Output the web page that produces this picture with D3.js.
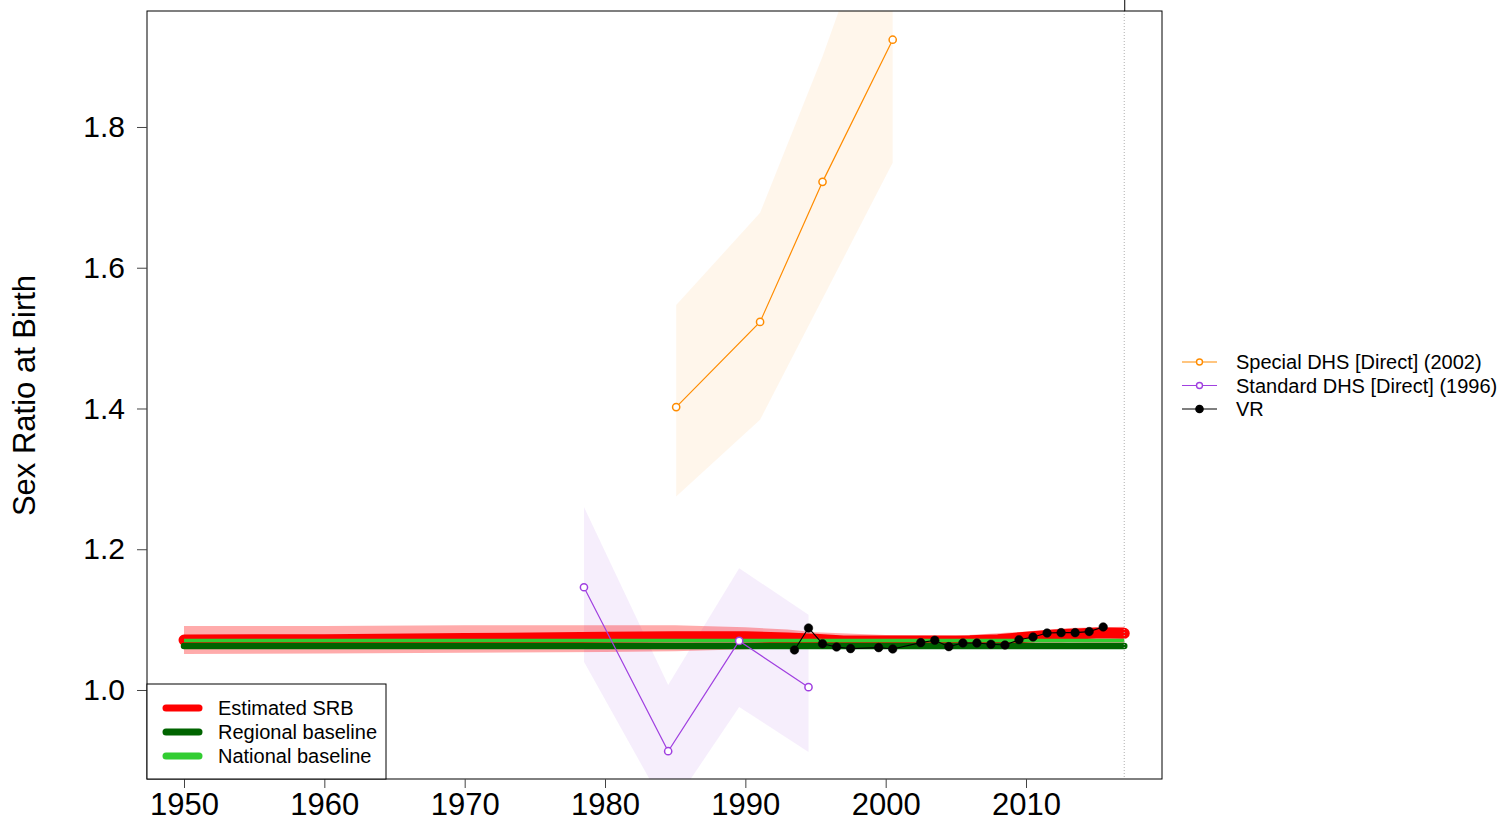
<!DOCTYPE html>
<html>
<head>
<meta charset="utf-8">
<script src="https://cdn.jsdelivr.net/npm/d3@7"></script>
<style>
  html, body { margin: 0; padding: 0; background: #fff; }
  svg { display: block; font-family: "Liberation Sans", Arial, sans-serif; }
</style>
</head>
<body>
<svg id="chart" width="1499" height="822"></svg>
<script>
// ---------------- DATA ----------------
const xTicks = [1950, 1960, 1970, 1980, 1990, 2000, 2010];
const yTicks = [1.0, 1.2, 1.4, 1.6, 1.8];

// Estimated SRB (median) and its uncertainty band
const estYears = [1950, 1960, 1970, 1980, 1985, 1990, 1993, 1995, 1997, 2000, 2003, 2006, 2008, 2010, 2012, 2014, 2015, 2016, 2017];
const estMedian = [1.071, 1.0715, 1.073, 1.075, 1.0755, 1.0755, 1.074, 1.072, 1.0695, 1.0695, 1.0695, 1.070, 1.0715, 1.075, 1.078, 1.080, 1.081, 1.081, 1.0805];
const bandYears = [1950, 1960, 1970, 1980, 1985, 1990, 1993, 1995, 2000, 2005, 2010, 2013, 2017];
const bandLower = [1.051, 1.052, 1.053, 1.054, 1.055, 1.058, 1.061, 1.062, 1.062, 1.063, 1.065, 1.067, 1.066];
const bandUpper = [1.091, 1.091, 1.092, 1.092, 1.092, 1.089, 1.086, 1.082, 1.078, 1.077, 1.083, 1.088, 1.090];

const regionalBaseline = 1.0625;
const nationalBaseline = 1.0705;
const baselineYears = [1950, 2017];

// Special DHS [Direct] (2002)
const dhs2002Years = [1985.07, 1991.05, 1995.5, 2000.5];
const dhs2002Values = [1.402, 1.523, 1.722, 1.924];
const dhs2002Lower = [1.275, 1.384, 1.556, 1.749];
const dhs2002Upper = [1.547, 1.678, 1.900, 2.18];

// Standard DHS [Direct] (1996)
const dhs1996Years = [1978.5, 1984.5, 1989.56, 1994.5];
const dhs1996Values = [1.146, 0.913, 1.0697, 1.004];
const dhs1996Lower = [1.040, 0.826, 0.976, 0.912];
const dhs1996Upper = [1.260, 1.007, 1.173, 1.107];

// VR
const vrYears = [1993.5, 1994.5, 1995.5, 1996.5, 1997.5, 1999.5, 2000.5, 2002.5, 2003.5, 2004.5, 2005.5, 2006.5, 2007.5, 2008.5, 2009.5, 2010.5, 2011.5, 2012.5, 2013.5, 2014.5, 2015.5];
const vrValues = [1.0569, 1.0881, 1.0658, 1.0611, 1.0588, 1.0602, 1.0583, 1.0673, 1.0706, 1.0616, 1.0668, 1.0668, 1.0649, 1.064, 1.0715, 1.0753, 1.081, 1.0815, 1.0815, 1.083, 1.0896];

const legendSeries = ["Special DHS [Direct] (2002)", "Standard DHS [Direct] (1996)", "VR"];
const legendLines = ["Estimated SRB", "Regional baseline", "National baseline"];
const yTitle = "Sex Ratio at Birth";
const endYear = 2017;

// ---------------- LAYOUT ----------------
const box = { left: 147, right: 1162, top: 11, bottom: 779 };
const colors = {
  est: "#FF0000", band: "#FF0000", regional: "#006400", national: "#32CD32",
  dhs2002: "#FF8C00", dhs1996: "#A040E0", vr: "#000000"
};

const svg = d3.select("#chart");
const x = d3.scaleLinear().domain([1947.363, 2019.69]).range([box.left, box.right]);
const y = d3.scaleLinear().domain([0.87353, 1.9648]).range([box.bottom, box.top]);

svg.append("defs").append("clipPath").attr("id", "clip")
  .append("rect").attr("x", box.left).attr("y", box.top)
  .attr("width", box.right - box.left).attr("height", box.bottom - box.top);

const plot = svg.append("g").attr("clip-path", "url(#clip)");

const area = d3.area().x(d => x(d[0])).y0(d => y(d[1])).y1(d => y(d[2]));
const line = d3.line().x(d => x(d[0])).y(d => y(d[1]));

// data bands
plot.append("path").datum(d3.zip(dhs2002Years, dhs2002Lower, dhs2002Upper))
  .attr("d", area).attr("fill", colors.dhs2002).attr("fill-opacity", 0.08);
plot.append("path").datum(d3.zip(dhs1996Years, dhs1996Lower, dhs1996Upper))
  .attr("d", area).attr("fill", colors.dhs1996).attr("fill-opacity", 0.09);

// estimate band
plot.append("path").datum(d3.zip(bandYears, bandLower, bandUpper))
  .attr("d", area).attr("fill", colors.band).attr("fill-opacity", 0.33);

// estimate line
plot.append("path").datum(d3.zip(estYears, estMedian))
  .attr("d", line).attr("fill", "none").attr("stroke", colors.est)
  .attr("stroke-width", 11).attr("stroke-linecap", "round").attr("stroke-linejoin", "round");

// baselines
plot.append("path").datum(baselineYears.map(t => [t, regionalBaseline]))
  .attr("d", line).attr("fill", "none").attr("stroke", colors.regional)
  .attr("stroke-width", 6.5).attr("stroke-linecap", "round");
plot.append("path").datum(baselineYears.map(t => [t, nationalBaseline]))
  .attr("d", line).attr("fill", "none").attr("stroke", colors.national)
  .attr("stroke-width", 3.5).attr("stroke-linecap", "butt");

// end-year dotted line
svg.append("line").attr("x1", x(endYear)).attr("x2", x(endYear))
  .attr("y1", box.top).attr("y2", box.bottom)
  .attr("stroke", "#b0b0b0").attr("stroke-width", 1).attr("stroke-dasharray", "1,2");

// series lines + points
function series(years, vals, color, open) {
  const pts = d3.zip(years, vals);
  plot.append("path").datum(pts).attr("d", line).attr("fill", "none")
    .attr("stroke", color).attr("stroke-width", open ? 1.2 : 1.1);
  plot.selectAll(null).data(pts).enter().append("circle")
    .attr("cx", d => x(d[0])).attr("cy", d => y(d[1]))
    .attr("r", open ? 3.6 : 4.3)
    .attr("fill", open ? "#fff" : color)
    .attr("stroke", color).attr("stroke-width", open ? 1.5 : 0.5);
}
series(dhs2002Years, dhs2002Values, colors.dhs2002, true);
series(dhs1996Years, dhs1996Values, colors.dhs1996, true);
series(vrYears, vrValues, colors.vr, false);

// box
svg.append("rect").attr("x", box.left).attr("y", box.top)
  .attr("width", box.right - box.left).attr("height", box.bottom - box.top)
  .attr("fill", "none").attr("stroke", "#000").attr("stroke-width", 1);

// axes
const xAxis = d3.axisBottom(x).tickValues(xTicks).tickFormat(d3.format("d")).tickSize(9).tickPadding(5);
const gx = svg.append("g").attr("transform", `translate(0,${box.bottom})`).call(xAxis);
gx.select(".domain").remove();
gx.selectAll("line").attr("stroke", "#444");
gx.selectAll("text").attr("font-size", 31).attr("fill", "#000")
  .attr("font-family", "'Liberation Sans', Arial, sans-serif");

const yAxis = d3.axisLeft(y).tickValues(yTicks).tickFormat(d3.format(".1f")).tickSize(10).tickPadding(12);
const gy = svg.append("g").attr("transform", `translate(${box.left},0)`).call(yAxis);
gy.select(".domain").remove();
gy.selectAll("line").attr("stroke", "#444");
gy.selectAll("text").attr("font-size", 30).attr("fill", "#000")
  .attr("font-family", "'Liberation Sans', Arial, sans-serif");

// top tick at end year
const xTop = d3.axisTop(x).tickValues([endYear]).tickFormat(() => "").tickSize(11);
const gt = svg.append("g").attr("transform", `translate(0,${box.top})`).call(xTop);
gt.select(".domain").remove();
gt.selectAll("line").attr("stroke", "#000");

// y title
svg.append("text").attr("transform", `translate(35,${(272 + 519) / 2}) rotate(-90)`)
  .attr("text-anchor", "middle").attr("font-size", 31).text(yTitle);

// bottom-left legend
const lg = svg.append("g");
lg.append("rect").attr("x", box.left).attr("y", 684).attr("width", 386 - box.left).attr("height", 779 - 684)
  .attr("fill", "#fff").attr("stroke", "#000").attr("stroke-width", 1);
const lcol = [colors.est, colors.regional, colors.national];
legendLines.forEach((name, i) => {
  const yy = 708 + i * 24;
  lg.append("line").attr("x1", 166).attr("x2", 199).attr("y1", yy).attr("y2", yy)
    .attr("stroke", lcol[i]).attr("stroke-width", 7).attr("stroke-linecap", "round");
  lg.append("text").attr("x", 218).attr("y", yy + 7).attr("font-size", 20).text(name);
});

// right legend
const rg = svg.append("g");
const rcol = [colors.dhs2002, colors.dhs1996, colors.vr];
legendSeries.forEach((name, i) => {
  const yy = 362 + i * 23.5;
  rg.append("line").attr("x1", 1182).attr("x2", 1217).attr("y1", yy).attr("y2", yy)
    .attr("stroke", rcol[i]).attr("stroke-width", 1.2);
  rg.append("circle").attr("cx", 1199.5).attr("cy", yy).attr("r", i < 2 ? 3 : 3.6)
    .attr("fill", i < 2 ? "#fff" : "#000").attr("stroke", rcol[i]).attr("stroke-width", 1.4);
  rg.append("text").attr("x", 1236).attr("y", yy + 7).attr("font-size", 20).text(name);
});
</script>
</body>
</html>
